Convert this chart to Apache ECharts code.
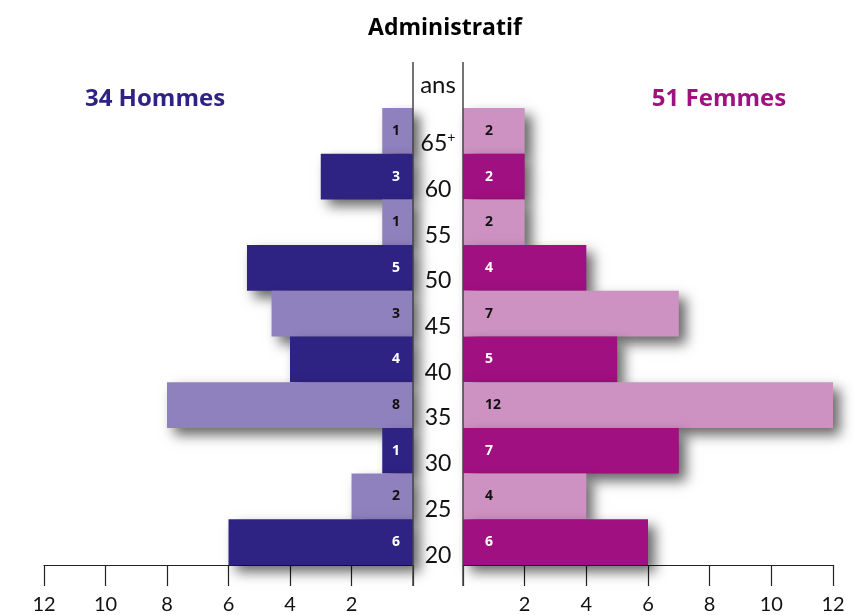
<!DOCTYPE html>
<html lang="fr">
<head>
    <meta charset="UTF-8">
    <script src="https://cdn.jsdelivr.net/npm/echarts@6/dist/echarts.min.js"></script>
    <title>Administratif</title>
    <style>
        body { margin: 0; background: #ffffff; }
        #chart { width: 854px; height: 615px; }
    </style>
</head>
<body>
    <div id="chart"></div>
    <script>
        // tranches d'age, du haut vers le bas
        var ages = ['65+', '60', '55', '50', '45', '40', '35', '30', '25', '20'];
        // longueurs des barres
        var menValues = [1, 3, 1, 5.4, 4.6, 4, 8, 1, 2, 6];
        // chiffres inscrits dans les barres
        var menLabels = [1, 3, 1, 5, 3, 4, 8, 1, 2, 6];
        var womenValues = [2, 2, 2, 4, 7, 5, 12, 7, 4, 6];
        var womenLabels = [2, 2, 2, 4, 7, 5, 12, 7, 4, 6];

        var menDark = '#2e2383', menLight = '#8f81be';
        var womenDark = '#a01080', womenLight = '#cd91c2';
        var font = 'Lato';
        var boldFont = 'Open Sans';

        function items(values, labels, light, dark) {
            return values.map(function (v, i) {
                var isDark = i % 2 === 1;
                return {
                    value: v,
                    name: String(labels[i]),
                    itemStyle: { color: isDark ? dark : light },
                    label: { color: isDark ? '#ffffff' : '#111111' }
                };
            });
        }

        var barShadow = {
            shadowBlur: 12,
            shadowOffsetX: 7,
            shadowOffsetY: 7,
            shadowColor: 'rgba(0,0,0,0.6)'
        };

        var xCommon = {
            min: 0, max: 12, interval: 2,
            axisLine: { show: true, lineStyle: { color: '#222', width: 1.2 } },
            axisTick: { show: true, length: 21, lineStyle: { color: '#222', width: 1.2 } },
            splitLine: { show: false },
            axisLabel: {
                margin: 30, fontSize: 20, color: '#111', fontFamily: font,
                formatter: function (v) { return v === 0 ? '' : v; }
            }
        };

        var chart = echarts.init(document.getElementById('chart'));
        chart.setOption({
            animation: false,
            title: {
                text: 'Administratif', left: 440, top: 12, textAlign: 'center',
                textStyle: { fontFamily: boldFont, fontSize: 23, fontWeight: 'bold', color: '#000' }
            },
            grid: [
                { left: 44, right: 441, top: 108, height: 457 },
                { left: 463, right: 21, top: 108, height: 457 }
            ],
            xAxis: [
                Object.assign({ gridIndex: 0, inverse: true }, xCommon),
                Object.assign({ gridIndex: 1 }, xCommon)
            ],
            yAxis: [
                {
                    gridIndex: 0, type: 'category', data: ages, inverse: true,
                    axisLine: { show: false }, axisTick: { show: false }, axisLabel: { show: false }
                },
                {
                    gridIndex: 1, type: 'category', data: ages, inverse: true, position: 'left',
                    axisLine: { show: false }, axisTick: { show: false },
                    axisLabel: {
                        margin: 25, align: 'center', verticalAlign: 'top', lineHeight: 26,
                        fontSize: 23, color: '#111', fontFamily: font,
                        formatter: function (v) {
                            return v.indexOf('+') > 0 ? v.replace('+', '') + '{sup|+}' : v;
                        },
                        rich: {
                            sup: { fontSize: 14, verticalAlign: 'top', padding: [0, 0, 10, 0], color: '#111', fontFamily: font }
                        }
                    }
                }
            ],
            series: [
                {
                    name: 'Hommes', type: 'bar', xAxisIndex: 0, yAxisIndex: 0,
                    barCategoryGap: 0, barWidth: '100%',
                    data: items(menValues, menLabels, menLight, menDark),
                    itemStyle: barShadow,
                    label: {
                        show: true, position: 'insideRight', distance: 13,
                        formatter: '{b}', fontSize: 14, fontWeight: 'bold', fontFamily: boldFont
                    }
                },
                {
                    name: 'Femmes', type: 'bar', xAxisIndex: 1, yAxisIndex: 1,
                    barCategoryGap: 0, barWidth: '100%',
                    data: items(womenValues, womenLabels, womenLight, womenDark),
                    itemStyle: barShadow,
                    label: {
                        show: true, position: 'insideLeft', distance: 22,
                        formatter: '{b}', fontSize: 14, fontWeight: 'bold', fontFamily: boldFont
                    }
                }
            ],
            graphic: [
                { type: 'line', shape: { x1: 413, y1: 62, x2: 413, y2: 586 }, style: { stroke: '#444', lineWidth: 1.5 }, z: 10 },
                { type: 'line', shape: { x1: 463, y1: 62, x2: 463, y2: 586 }, style: { stroke: '#444', lineWidth: 1.5 }, z: 10 },
                { type: 'text', x: 438, y: 85, style: { text: 'ans', fontSize: 24, fontFamily: font, fill: '#111', align: 'center', verticalAlign: 'middle' } },
                { type: 'text', x: 155, y: 99, style: { text: '34 Hommes', fontSize: 24, fontWeight: 'bold', fontFamily: boldFont, fill: menDark, align: 'center', verticalAlign: 'middle' } },
                { type: 'text', x: 719, y: 99, style: { text: '51 Femmes', fontSize: 24, fontWeight: 'bold', fontFamily: boldFont, fill: womenDark, align: 'center', verticalAlign: 'middle' } }
            ]
        });
    </script>
</body>
</html>
